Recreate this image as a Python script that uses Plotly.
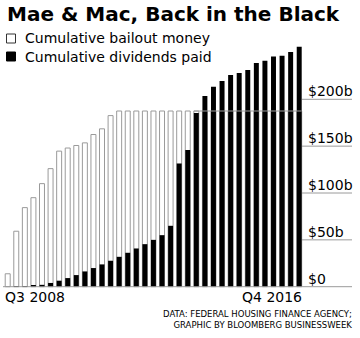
import plotly.graph_objects as go

# ---- data ----
bailout = [13.8, 59.2, 84.4, 95.0, 110.0, 126.0, 144.7, 148.0, 150.7, 153.5,
           162.4, 168.5, 182.6, 187.5, 187.5, 187.5, 187.5, 187.5, 187.5, 187.5,
           187.5, 187.5, 187.5, 187.5, 187.5, 187.5, 187.5, 187.5, 187.5, 187.5,
           187.5, 187.5, 187.5, 187.5, 187.5]
dividends = [0.0, 0.2, 0.5, 0.8, 2.0, 4.0, 6.4, 9.2, 12.4, 16.3,
             19.9, 23.8, 27.7, 31.9, 36.2, 40.8, 45.4, 50.0, 55.0, 65.0,
             131.5, 146.0, 185.3, 203.5, 213.4, 219.5, 226.0, 228.0, 231.2, 238.7,
             241.1, 245.7, 246.5, 250.4, 256.0]
positions = list(range(len(bailout)))
first_label = "Q3 2008"
last_label = "Q4 2016"
y_ticks = [0, 50, 100, 150, 200]
y_tick_labels = ["$0", "$50b", "$100b", "$150b", "$200b"]
bailout_total = 187.5

title = "Mae & Mac, Back in the Black"
legend_labels = ["Cumulative bailout money", "Cumulative dividends paid"]
source_lines = ["DATA: FEDERAL HOUSING FINANCE AGENCY;", "GRAPHIC BY BLOOMBERG BUSINESSWEEK"]

W, H = 360, 338
FONT = "DejaVu Sans"
BAR_W = 0.58

# axis ranges chosen so the plot fills the page
px_per_bar = 8.574
x0 = -7.7 / px_per_bar
x1 = x0 + W / px_per_bar
px_per_b = 0.937
base_px = 286.7
y0 = -(H - base_px) / px_per_b
y1 = y0 + H / px_per_b


def py(p):
    return 1 - p / H


def px(p):
    return p / W


fig = go.Figure()
fig.add_trace(go.Bar(x=positions, y=bailout, width=BAR_W,
                     marker=dict(color="white", line=dict(color="#9a9a9a", width=1)),
                     name=legend_labels[0], showlegend=False))
fig.add_trace(go.Bar(x=positions, y=dividends, width=BAR_W,
                     marker=dict(color="black", line=dict(width=0)),
                     name=legend_labels[1], showlegend=False))

shapes = []
# baseline
shapes.append(dict(type="line", xref="paper", yref="y", x0=px(3), x1=px(352),
                   y0=0, y1=0, line=dict(color="#9a9a9a", width=1)))
# short gridlines beside the labels
for v in y_ticks[1:]:
    shapes.append(dict(type="line", xref="paper", yref="y", x0=px(302), x1=px(352),
                       y0=v, y1=v, line=dict(color="#9a9a9a", width=1)))
# bailout level line across the black bars
shapes.append(dict(type="line", xref="x", yref="y", x0=22 - BAR_W / 2,
                   x1=positions[-1] + BAR_W / 2, y0=bailout_total, y1=bailout_total,
                   line=dict(color="#9a9a9a", width=1), layer="above"))
# legend swatches
shapes.append(dict(type="rect", xref="paper", yref="paper", x0=px(6.5), x1=px(15.5),
                   y0=py(43), y1=py(34), fillcolor="white",
                   line=dict(color="#333333", width=1)))
shapes.append(dict(type="rect", xref="paper", yref="paper", x0=px(6.5), x1=px(15.5),
                   y0=py(61), y1=py(52), fillcolor="black",
                   line=dict(color="black", width=1)))

ann = []
ann.append(dict(text=f"<b>{title}</b>", xref="paper", yref="paper", x=px(4.5), y=py(14),
                xanchor="left", yanchor="middle", showarrow=False,
                font=dict(family=FONT, size=20, color="black")))
for i, lab in enumerate(legend_labels):
    ann.append(dict(text=lab, xref="paper", yref="paper", x=px(22.5), y=py(38.5 + 18 * i),
                    xanchor="left", yanchor="middle", showarrow=False,
                    font=dict(family=FONT, size=14, color="black")))
for v, lab in zip(y_ticks, y_tick_labels):
    ann.append(dict(text=lab, xref="paper", yref="y", x=px(305.5), y=v,
                    xanchor="left", yanchor="bottom", yshift=-2, showarrow=False,
                    font=dict(family=FONT, size=14, color="black")))
ann.append(dict(text=first_label, xref="x", yref="paper", x=positions[0] - BAR_W / 2,
                y=py(297), xanchor="left", yanchor="middle", showarrow=False, xshift=-2,
                font=dict(family=FONT, size=14, color="black")))
ann.append(dict(text=last_label, xref="x", yref="paper", x=positions[-1] + BAR_W / 2,
                y=py(297), xanchor="right", yanchor="middle", showarrow=False, xshift=2,
                font=dict(family=FONT, size=14, color="black")))
ann.append(dict(text="<br>".join(source_lines), xref="paper", yref="paper",
                x=px(354), y=py(319), xanchor="right", yanchor="middle", align="right",
                showarrow=False, font=dict(family=FONT, size=8.5, color="black")))

fig.update_layout(
    width=W, height=H, margin=dict(l=0, r=0, t=0, b=0),
    paper_bgcolor="white", plot_bgcolor="white",
    barmode="overlay", showlegend=False,
    xaxis=dict(visible=False, range=[x0, x1], fixedrange=True),
    yaxis=dict(visible=False, range=[y0, y1], fixedrange=True),
    shapes=shapes, annotations=ann,
)
fig.write_html("out.html", config={"displayModeBar": False})
